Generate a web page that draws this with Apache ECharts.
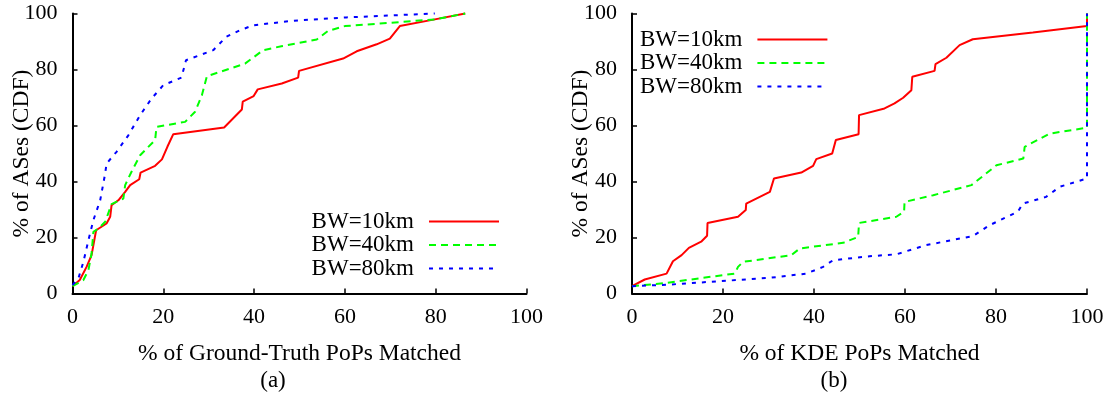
<!DOCTYPE html>
<html>
<head>
<meta charset="utf-8">
<script src="https://cdn.jsdelivr.net/npm/echarts@6/dist/echarts.min.js"></script>
<style>
  html, body {margin: 0; padding: 0; background: #fff;}
  #chart {width: 1111px; height: 397px;}
</style>
</head>
<body>
<div id="chart"></div>
<script>
// series names
const names = ['BW=10km', 'BW=40km', 'BW=80km'];
const colors = ['#ff0000', '#00ff00', '#0000ff'];

// (a) % of ground-truth PoPs matched  -> % of ASes
const gt10 = [[0,2.6],[1.6,4.8],[3.1,9.5],[4.2,13.7],[5.2,22.6],[7.5,25],[8.3,27.4],[8.6,31.5],[10.1,33.3],[11.6,36.3],[12.7,38.7],[14.7,40.8],[15,43.2],[18.2,45.6],[19.7,47.9],[20.9,52.4],[22.2,56.9],[33.4,59.3],[37.3,65.7],[37.5,68.5],[39.9,70.5],[40.8,72.9],[46.1,75],[49.7,77.1],[49.9,79.5],[59.6,83.9],[62.6,86.5],[67,89],[69.9,91],[72.1,95.5],[79.8,97.9],[86.5,100]];
const gt40 = [[0,2.6],[2.4,4.8],[3.5,8.3],[4.2,14.3],[4.6,22],[5.7,23.2],[7.2,25.6],[8.6,31.9],[11.2,33.9],[11.6,38.7],[13,43.5],[14.9,49.4],[18.2,54.8],[18.5,59.5],[24.8,61.3],[27,64.9],[28.5,70.8],[29.6,77.6],[38,82.1],[42,86.9],[46,88.3],[53.8,90.7],[56.3,93.8],[60,95.5],[67.7,96.4],[79.8,97.9],[86.5,100]];
const gt80 = [[0,3],[1.3,5.4],[2.4,11.3],[3.5,19],[4.6,26.2],[6.1,33.3],[7.2,42.9],[7.5,46.4],[9.7,50.6],[12.3,56.5],[14.9,63.7],[17.4,69.6],[20,74.4],[24,77.1],[25,83.3],[31,86.9],[33.9,91.7],[36.9,94],[39.8,95.8],[48.6,97.4],[60.3,98.6],[79.8,100]];

// (b) % of KDE PoPs matched -> % of ASes
const kde10 = [[0,2.6],[2.8,5],[7.6,7.1],[9,11.5],[10.9,13.7],[12.5,16.3],[15.2,18.5],[16.5,20.6],[16.6,25.2],[23.3,27.4],[25,29.8],[25.1,32.1],[30.3,36.3],[31.2,41.1],[37.2,43.2],[39.8,45.6],[40.5,48],[44,50],[44.8,54.8],[49.8,56.9],[49.9,63.7],[55.5,66.1],[57.7,67.9],[59.6,69.9],[61.4,72.6],[61.6,77.4],[66.5,79.5],[66.7,81.9],[69.1,84.2],[72,88.7],[74.9,90.8],[88.1,93.2],[100,95.5],[100,100]];
const kde40 = [[0,2.6],[7.6,3.8],[15.6,5.6],[22.6,7.1],[23.3,9.5],[24.4,11.3],[35,13.7],[36.9,16.1],[46.4,18.1],[49.7,20.2],[49.9,25.2],[58.1,27.4],[59.8,29.2],[59.9,32.7],[66.2,35.1],[74.6,38.7],[80.1,45.8],[86,48.2],[86.3,52.4],[91.8,57.1],[100,59.2],[100,100]];
const kde80 = [[0,2.6],[8.3,3.2],[19.3,4.4],[30.3,5.6],[38.3,7.1],[42,9.5],[44.2,11.9],[52.2,13.3],[58.1,14],[64.7,17.3],[74.9,20.5],[78.6,24.4],[84.8,29.2],[85.9,32.1],[91,34.5],[94,38.1],[100,41.1],[100,100]];

const xTitles = ['% of Ground-Truth PoPs Matched', '% of KDE PoPs Matched'];
const yTitle = '% of ASes (CDF)';
const panelTags = ['(a)', '(b)'];

const font = 'Liberation Serif';
const dashes = ['solid', [7, 5], [4, 6]];

const chart = echarts.init(document.getElementById('chart'));

const xAxis = i => ({
  gridIndex: i, type: 'value', min: 0, max: 100, interval: 20,
  name: xTitles[i], nameLocation: 'middle', nameGap: 48, nameMoveOverlap: false,
  nameTextStyle: {fontFamily: font, fontSize: 23.5, color: '#000'},
  axisLine: {lineStyle: {color: '#000', width: 2}},
  axisTick: {inside: true, length: 5, lineStyle: {color: '#000', width: 1.5}},
  axisLabel: {fontFamily: font, fontSize: 22, color: '#000', margin: 13},
  splitLine: {show: false}
});
const yAxis = i => ({
  gridIndex: i, type: 'value', min: 0, max: 100, interval: 20,
  name: yTitle, nameLocation: 'middle', nameGap: 39, nameMoveOverlap: false,
  nameTextStyle: {fontFamily: font, fontSize: 23.5, color: '#000'},
  axisLine: {show: true, lineStyle: {color: '#000', width: 2}},
  axisTick: {show: true, inside: true, length: 5, lineStyle: {color: '#000', width: 1.5}},
  axisLabel: {fontFamily: font, fontSize: 22, color: '#000', margin: 15},
  splitLine: {show: false}
});

const mk = (data, k, i) => ({
  name: names[k], type: 'line', data: data,
  xAxisIndex: i, yAxisIndex: i,
  symbol: 'none', clip: false, animation: false,
  color: colors[k],
  lineStyle: {color: colors[k], width: 2, type: dashes[k]}
});

const legendText = {fontFamily: font, fontSize: 23, color: '#000', padding: [0, 10, 0, 0]};

chart.setOption({
  backgroundColor: '#fff',
  animation: false,
  title: [
    {text: panelTags[0], left: 268, top: 364, textAlign: 'center',
     textStyle: {fontFamily: font, fontSize: 23, fontWeight: 'normal', color: '#000'}},
    {text: panelTags[1], left: 829, top: 364, textAlign: 'center',
     textStyle: {fontFamily: font, fontSize: 23, fontWeight: 'normal', color: '#000'}}
  ],
  grid: [
    {left: 72.5, top: 13.5, width: 454, height: 280},
    {left: 632, top: 13.5, width: 455, height: 280}
  ],
  legend: [
    {data: names.map(n => ({name: n, itemStyle: {opacity: 0}})),
     orient: 'vertical', align: 'right', right: 606, top: 205,
     itemWidth: 70, itemHeight: 10, itemGap: 0.5, textStyle: legendText},
    {data: names.map(n => ({name: n, itemStyle: {opacity: 0}})),
     orient: 'vertical', align: 'right', left: 635, top: 23,
     itemWidth: 70, itemHeight: 10, itemGap: 0.5, textStyle: legendText}
  ],
  xAxis: [xAxis(0), xAxis(1)],
  yAxis: [yAxis(0), yAxis(1)],
  series: [
    mk(gt10, 0, 0), mk(gt40, 1, 0), mk(gt80, 2, 0),
    mk(kde10, 0, 1), mk(kde40, 1, 1), mk(kde80, 2, 1)
  ]
});
</script>
</body>
</html>
